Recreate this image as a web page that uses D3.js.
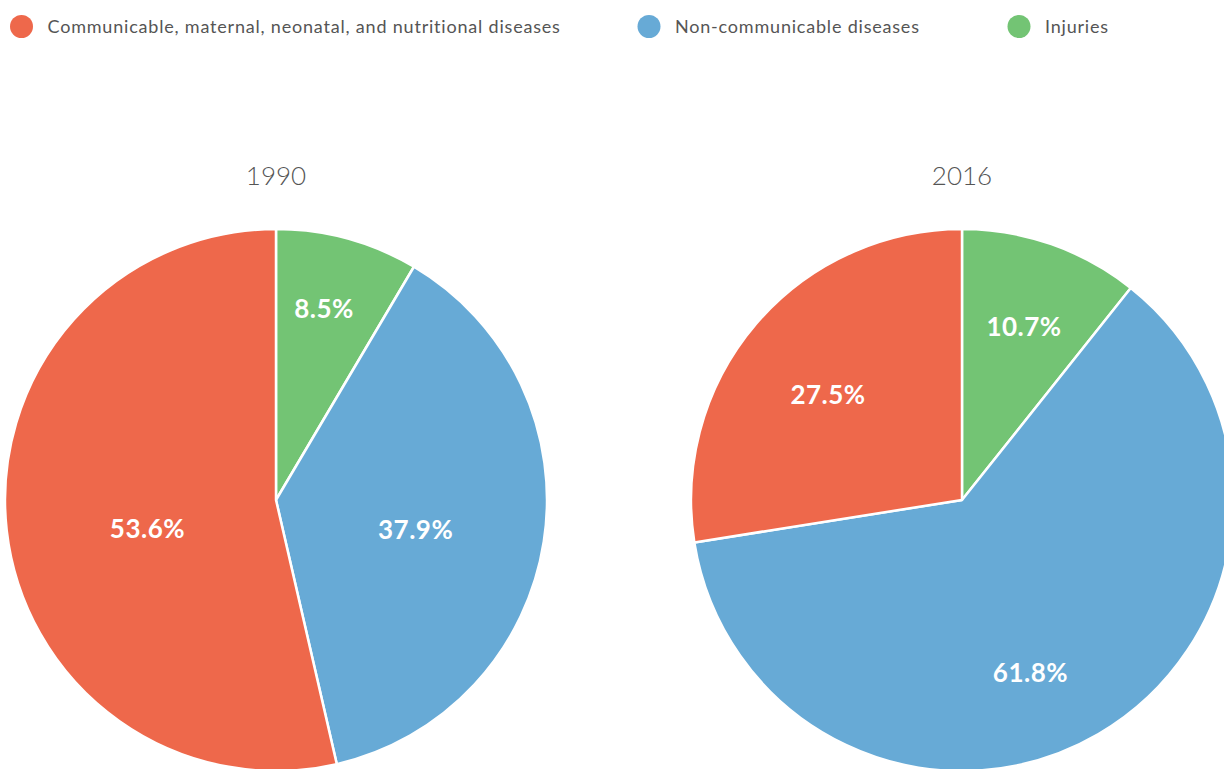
<!DOCTYPE html>
<html lang="en">
<head>
    <meta charset="UTF-8">
    <title>Deaths by cause, 1990 vs 2016</title>
    <script src="https://d3js.org/d3.v7.min.js"></script>
    <style>
        body { margin: 0; background: #fff; overflow: hidden; }
        svg { display: block; font-family: Lato, "Noto Sans", sans-serif; }
    </style>
</head>
<body>
    <svg id="chart"></svg>
    <script>
        // data
        var categories = ["Injuries", "Non-communicable diseases", "Communicable, maternal, neonatal, and nutritional diseases"];
        var legendOrder = ["Communicable, maternal, neonatal, and nutritional diseases", "Non-communicable diseases", "Injuries"];
        var years = ["1990", "2016"];
        var values1990 = [8.5, 37.9, 53.6];
        var values2016 = [10.7, 61.8, 27.5];

        var colors = {
            "Communicable, maternal, neonatal, and nutritional diseases": "#ee684b",
            "Non-communicable diseases": "#67aad6",
            "Injuries": "#73c474"
        };

        var width = 1224, height = 769;
        var svg = d3.select("#chart").attr("width", width).attr("height", height);

        // legend
        var legendX = [21.5, 649, 1019];
        legendOrder.forEach(function(name, i) {
            var item = svg.append("g").attr("transform", "translate(" + legendX[i] + ",26.5)");
            item.append("circle").attr("r", 11.5).attr("fill", colors[name]);
            item.append("text")
                .attr("x", 26)
                .attr("dy", "0.35em")
                .attr("font-size", "18px")
                .attr("letter-spacing", "0.8px")
                .attr("fill", "#555")
                .text(name);
        });

        var radius = 271;
        var centers = [276, 962];
        // label placement: [share of radius, angle tweak in degrees], per slice
        var labelPlace = [
            [[0.727, -1.2], [0.527, 3.3], [0.486, -6.0]],
            [[0.680, 0.4], [0.685, 8.6], [0.629, -2.3]]
        ];

        var pie = d3.pie().sort(null).value(function(d) { return d; });
        var arc = d3.arc().innerRadius(0).outerRadius(radius);

        [values1990, values2016].forEach(function(vals, i) {
            var g = svg.append("g").attr("transform", "translate(" + centers[i] + ",500)");

            g.append("text")
                .attr("y", -315)
                .attr("text-anchor", "middle")
                .attr("font-size", "26px")
                .attr("font-weight", 300)
                .attr("fill", "#555")
                .text(years[i]);

            var arcs = pie(vals);
            g.selectAll("path")
                .data(arcs)
                .enter().append("path")
                .attr("d", arc)
                .attr("fill", function(d, j) { return colors[categories[j]]; })
                .attr("stroke", "#fff")
                .attr("stroke-width", 2.5)
                .attr("stroke-linejoin", "round");

            g.selectAll(".lbl")
                .data(arcs)
                .enter().append("text")
                .attr("class", "lbl")
                .attr("transform", function(d, j) {
                    var p = labelPlace[i][j];
                    var a = (d.startAngle + d.endAngle) / 2 + p[1] * Math.PI / 180;
                    var rr = radius * p[0];
                    return "translate(" + (Math.sin(a) * rr) + "," + (-Math.cos(a) * rr) + ")";
                })
                .attr("text-anchor", "middle")
                .attr("dy", "0.36em")
                .attr("font-size", "26px")
                .attr("font-weight", 700)
                .attr("letter-spacing", "0.5px")
                .attr("fill", "#fff")
                .text(function(d) { return d.data.toFixed(1) + "%"; });
        });
    </script>
</body>
</html>
